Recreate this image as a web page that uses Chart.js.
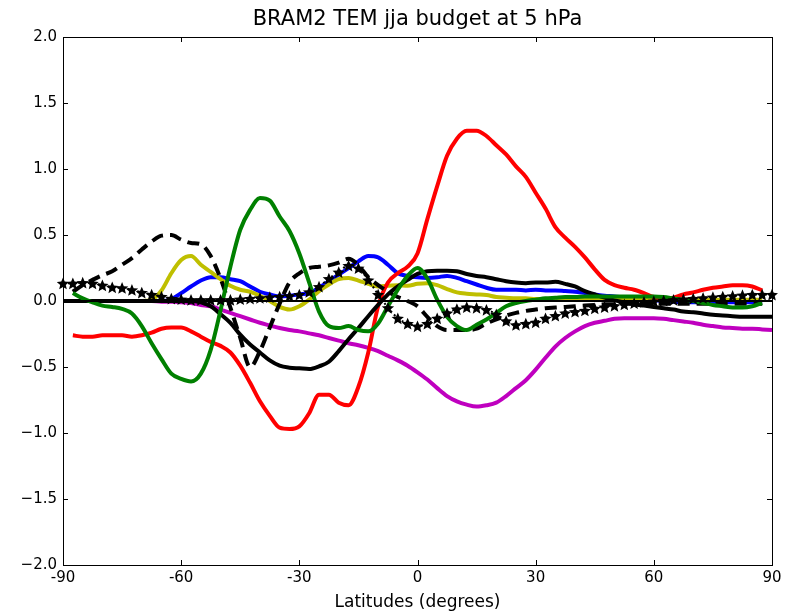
<!DOCTYPE html>
<html>
<head>
<meta charset="utf-8">
<title>BRAM2 TEM jja budget at 5 hPa</title>
<script src="https://cdn.jsdelivr.net/npm/chart.js@4.4.1/dist/chart.umd.min.js"></script>
<style>
  html, body { margin: 0; padding: 0; background: #fff; }
  #wrap { width: 788px; height: 615px; }
</style>
</head>
<body>
<div id="wrap"><canvas id="budget" width="788" height="615"></canvas></div>
<script>
// Latitude grid (degrees), 2.5 deg spacing
const latitudes = [
  -90, -87.5, -85, -82.5, -80, -77.5, -75, -72.5, -70, -67.5, -65, -62.5,
  -60, -57.5, -55, -52.5, -50, -47.5, -45, -42.5, -40, -37.5, -35, -32.5,
  -30, -27.5, -25, -22.5, -20, -17.5, -15, -12.5, -10, -7.5, -5, -2.5,
  0, 2.5, 5, 7.5, 10, 12.5, 15, 17.5, 20, 22.5, 25, 27.5,
  30, 32.5, 35, 37.5, 40, 42.5, 45, 47.5, 50, 52.5, 55, 57.5,
  60, 62.5, 65, 67.5, 70, 72.5, 75, 77.5, 80, 82.5, 85, 87.5, 90
];

// Budget terms (m/s/day), one value per latitude
const redTerm = [
  null, -0.26, -0.27, -0.27, -0.26, -0.26, -0.26, -0.27, -0.26, -0.24, -0.21, -0.20,
  -0.20, -0.23, -0.27, -0.31, -0.34, -0.39, -0.49, -0.62, -0.76, -0.87, -0.96, -0.97,
  -0.95, -0.85, -0.71, -0.71, -0.77, -0.79, -0.65, -0.39, -0.04, 0.14, 0.21, 0.26,
  0.36, 0.62, 0.87, 1.10, 1.23, 1.29, 1.29, 1.25, 1.18, 1.11, 1.02, 0.94,
  0.82, 0.70, 0.56, 0.48, 0.41, 0.33, 0.24, 0.16, 0.12, 0.10, 0.085, 0.06,
  0.03, 0.02, 0.025, 0.05, 0.065, 0.085, 0.10, 0.11, 0.12, 0.12, 0.11, 0.08, null
];
const greenTerm = [
  null, 0.06, 0.02, -0.01, -0.035, -0.045, -0.06, -0.095, -0.19, -0.32, -0.44, -0.55,
  -0.59, -0.61, -0.55, -0.37, -0.07, 0.26, 0.54, 0.69, 0.78, 0.76, 0.64, 0.53,
  0.36, 0.14, -0.08, -0.19, -0.205, -0.19, -0.22, -0.23, -0.17, -0.04, 0.085, 0.19,
  0.25, 0.17, 0.01, -0.12, -0.19, -0.22, -0.18, -0.14, -0.09, -0.04, -0.015, 0.0,
  0.01, 0.02, 0.025, 0.03, 0.03, 0.035, 0.035, 0.035, 0.035, 0.035, 0.035, 0.035,
  0.035, 0.03, 0.02, 0.01, 0.0, -0.015, -0.03, -0.04, -0.05, -0.05, -0.04, -0.015, null
];
const blueTerm = [
  0.0, 0.0, 0.0, 0.0, 0.0, 0.0, 0.0, 0.0, 0.0, 0.0, 0.0, 0.015,
  0.06, 0.11, 0.155, 0.18, 0.18, 0.165, 0.15, 0.11, 0.07, 0.05, 0.035, 0.04,
  0.05, 0.06, 0.10, 0.15, 0.20, 0.25, 0.30, 0.34, 0.33, 0.275, 0.21, 0.19,
  0.18, 0.175, 0.18, 0.19, 0.175, 0.15, 0.125, 0.10, 0.085, 0.085, 0.085, 0.08,
  0.085, 0.08, 0.08, 0.075, 0.07, 0.06, 0.05, 0.04, 0.035, 0.025, 0.02, 0.01,
  0.005, 0.0, -0.005, -0.01, -0.01, -0.01, -0.01, -0.01, -0.01, -0.01, -0.01, -0.01, null
];
const yellowTerm = [
  0.0, 0.0, 0.0, 0.0, 0.0, 0.0, 0.0, 0.0, 0.0, 0.01, 0.08, 0.21,
  0.31, 0.34, 0.275, 0.22, 0.165, 0.115, 0.085, 0.07, 0.04, 0.0, -0.045, -0.065,
  -0.04, 0.01, 0.075, 0.125, 0.165, 0.175, 0.155, 0.13, 0.11, 0.115, 0.12, 0.115,
  0.13, 0.135, 0.12, 0.09, 0.065, 0.055, 0.05, 0.045, 0.03, 0.025, 0.02, 0.02,
  0.015, 0.015, 0.015, 0.015, 0.015, 0.015, 0.015, 0.015, 0.015, 0.015, 0.015, 0.015,
  0.015, 0.01, 0.01, 0.01, 0.01, 0.01, 0.01, 0.01, 0.01, 0.01, 0.01, 0.01, null
];
const blackTerm = [
  0.0, 0.0, 0.0, 0.0, 0.0, 0.0, 0.0, 0.0, 0.0, 0.0, 0.0, 0.0,
  0.0, 0.0, -0.01, -0.04, -0.10, -0.165, -0.255, -0.33, -0.39, -0.45, -0.49, -0.505,
  -0.51, -0.515, -0.495, -0.46, -0.38, -0.29, -0.205, -0.115, -0.03, 0.05, 0.11, 0.16,
  0.205, 0.225, 0.23, 0.23, 0.225, 0.205, 0.19, 0.18, 0.165, 0.15, 0.14, 0.135,
  0.14, 0.14, 0.145, 0.13, 0.11, 0.075, 0.05, 0.025, 0.005, -0.01, -0.025, -0.035,
  -0.045, -0.055, -0.065, -0.08, -0.085, -0.095, -0.105, -0.11, -0.115, -0.12, -0.12, -0.12, -0.12
];
const magentaTerm = [
  0.0, 0.0, 0.0, 0.0, 0.0, 0.0, 0.0, 0.0, 0.0, 0.0, -0.005, -0.005,
  -0.01, -0.015, -0.03, -0.04, -0.065, -0.09, -0.115, -0.14, -0.165, -0.185, -0.205, -0.22,
  -0.23, -0.245, -0.26, -0.28, -0.30, -0.32, -0.335, -0.355, -0.38, -0.415, -0.45, -0.49,
  -0.54, -0.595, -0.66, -0.72, -0.76, -0.785, -0.80, -0.79, -0.77, -0.72, -0.66, -0.60,
  -0.52, -0.43, -0.345, -0.28, -0.23, -0.19, -0.165, -0.15, -0.135, -0.13, -0.13, -0.13,
  -0.13, -0.135, -0.145, -0.155, -0.165, -0.18, -0.19, -0.20, -0.205, -0.21, -0.21, -0.215, -0.22
];
const dashedTerm = [
  null, 0.07, 0.12, 0.16, 0.195, 0.225, 0.275, 0.325, 0.39, 0.45, 0.495, 0.50,
  0.465, 0.44, 0.43, 0.34, 0.17, -0.05, -0.28, -0.50, -0.38, -0.20, -0.02, 0.14,
  0.21, 0.25, 0.26, 0.27, 0.29, 0.32, 0.27, 0.18, 0.12, 0.07, 0.03, 0.0,
  -0.04, -0.12, -0.19, -0.22, -0.22, -0.22, -0.21, -0.17, -0.14, -0.11, -0.09, -0.075,
  -0.065, -0.055, -0.05, -0.045, -0.04, -0.035, -0.03, -0.025, -0.025, -0.02, -0.02, -0.02,
  -0.02, -0.02, -0.02, -0.02, -0.02, -0.02, -0.02, -0.02, -0.02, -0.02, -0.02, -0.02, null
];
const starTerm = [
  0.135, 0.135, 0.14, 0.135, 0.12, 0.105, 0.10, 0.085, 0.065, 0.05, 0.035, 0.02,
  0.015, 0.01, 0.01, 0.01, 0.01, 0.01, 0.015, 0.02, 0.025, 0.03, 0.035, 0.04,
  0.05, 0.07, 0.11, 0.17, 0.22, 0.27, 0.25, 0.16, 0.05, -0.05, -0.13, -0.17,
  -0.19, -0.17, -0.13, -0.09, -0.06, -0.045, -0.05, -0.065, -0.10, -0.15, -0.18, -0.17,
  -0.16, -0.13, -0.11, -0.09, -0.08, -0.07, -0.055, -0.045, -0.035, -0.025, -0.015, -0.005,
  0.0, 0.005, 0.01, 0.015, 0.02, 0.025, 0.03, 0.035, 0.04, 0.045, 0.05, 0.05, 0.05
];

const xTicks = [-90, -60, -30, 0, 30, 60, 90];
const xTickLabels = ['-90', '-60', '-30', '0', '30', '60', '90'];
const yTicks = [-2.0, -1.5, -1.0, -0.5, 0.0, 0.5, 1.0, 1.5, 2.0];

const FONT = "'DejaVu Sans', sans-serif";

function toPoints(values) {
    return latitudes.map((lat, i) => ({ x: lat, y: values[i] }));
}

// filled five-point star, drawn straight onto the chart canvas
function drawStar(ctx, x, y, outer) {
    const inner = outer * 0.45;
    ctx.beginPath();
    for (let k = 0; k < 10; k++) {
        const r = k % 2 === 0 ? outer : inner;
        const a = -Math.PI / 2 + k * Math.PI / 5;
        ctx.lineTo(x + r * Math.cos(a), y + 0.8 + r * Math.sin(a));
    }
    ctx.closePath();
    ctx.fill();
}

function line(values, color, order, extra) {
    return Object.assign({
        data: toPoints(values),
        borderColor: color,
        backgroundColor: color,
        borderWidth: 4,
        pointRadius: 0,
        cubicInterpolationMode: 'monotone',
        spanGaps: false,
        fill: false,
        order: order,
    }, extra || {});
}

// star markers on top of the dotted term, placed through the chart's scales
const starPlugin = {
    id: 'stars',
    afterDatasetsDraw(chart) {
        const { ctx, scales, chartArea: a } = chart;
        ctx.save();
        ctx.beginPath();
        ctx.rect(a.left - 6, a.top, a.right - a.left + 12, a.bottom - a.top);
        ctx.clip();
        ctx.fillStyle = '#000';
        latitudes.forEach((lat, i) => {
            if (starTerm[i] === null) return;
            drawStar(ctx, scales.x.getPixelForValue(lat), scales.y.getPixelForValue(starTerm[i]), 6.5);
        });
        ctx.restore();
    }
};

// frame, inward ticks on all four sides, and the title
const framePlugin = {
    id: 'frame',
    afterDatasetsDraw(chart) {
        const { ctx, chartArea: a, scales } = chart;
        ctx.save();
        ctx.strokeStyle = '#000';
        ctx.lineWidth = 1;
        const tick = 5;
        ctx.beginPath();
        for (const v of xTicks) {
            const px = Math.round(scales.x.getPixelForValue(v)) + 0.5;
            ctx.moveTo(px, a.bottom); ctx.lineTo(px, a.bottom - tick);
            ctx.moveTo(px, a.top); ctx.lineTo(px, a.top + tick);
        }
        for (const v of yTicks) {
            const py = Math.round(scales.y.getPixelForValue(v)) + 0.5;
            ctx.moveTo(a.left, py); ctx.lineTo(a.left + tick, py);
            ctx.moveTo(a.right, py); ctx.lineTo(a.right - tick, py);
        }
        ctx.stroke();
        ctx.strokeRect(Math.round(a.left) + 0.5, Math.round(a.top) + 0.5,
            Math.round(a.right - a.left), Math.round(a.bottom - a.top));

        ctx.fillStyle = '#000';
        ctx.font = '21px ' + FONT;
        ctx.textAlign = 'center';
        ctx.textBaseline = 'middle';
        ctx.fillText('BRAM2 TEM jja budget at 5 hPa', (a.left + a.right) / 2, 20);
        ctx.restore();
    }
};

new Chart(document.getElementById('budget'), {
    type: 'line',
    data: {
        datasets: [
            // zero reference line
            {
                data: [{ x: -90, y: 0 }, { x: 90, y: 0 }],
                borderColor: '#000',
                borderWidth: 2,
                pointRadius: 0,
                order: 0,
            },
            line(starTerm, '#000', 1, {
                borderWidth: 2,
                borderDash: [2, 3],
            }),
            line(greenTerm, '#008000', 2),
            line(blackTerm, '#000000', 3),
            line(dashedTerm, '#000000', 4, { borderDash: [12, 7] }),
            line(redTerm, '#ff0000', 5),
            line(magentaTerm, '#bf00bf', 6),
            line(yellowTerm, '#bfbf00', 7),
            line(blueTerm, '#0000ff', 8),
        ]
    },
    options: {
        responsive: false,
        devicePixelRatio: 1,
        animation: false,
        events: [],
        layout: { padding: { top: 37, right: 16, left: 0, bottom: 0 } },
        plugins: {
            legend: { display: false },
            tooltip: { enabled: false },
            title: { display: false },
        },
        scales: {
            x: {
                type: 'linear',
                min: -90,
                max: 90,
                afterFit(scale) { scale.height = 50; },
                afterBuildTicks(scale) { scale.ticks = xTicks.map(v => ({ value: v })); },
                ticks: {
                    color: '#000',
                    font: { size: 15, family: FONT },
                    padding: 4,
                    maxRotation: 0,
                    autoSkip: false,
                    callback: (v) => xTickLabels[xTicks.indexOf(v)],
                },
                grid: { display: false, drawTicks: false },
                border: { display: false },
                title: {
                    display: true,
                    text: 'Latitudes (degrees)',
                    color: '#000',
                    font: { size: 17, family: FONT },
                    padding: { top: 0, bottom: 2 },
                },
            },
            y: {
                type: 'linear',
                min: -2,
                max: 2,
                afterFit(scale) { scale.width = 63; },
                afterBuildTicks(scale) { scale.ticks = yTicks.map(v => ({ value: v })); },
                ticks: {
                    color: '#000',
                    font: { size: 15, family: FONT },
                    padding: 6,
                    autoSkip: false,
                    callback: (v) => (v < 0 ? '\u2212' : '') + Math.abs(v).toFixed(1),
                },
                grid: { display: false, drawTicks: false },
                border: { display: false },
            },
        },
    },
    plugins: [starPlugin, framePlugin],
});
</script>
</body>
</html>
